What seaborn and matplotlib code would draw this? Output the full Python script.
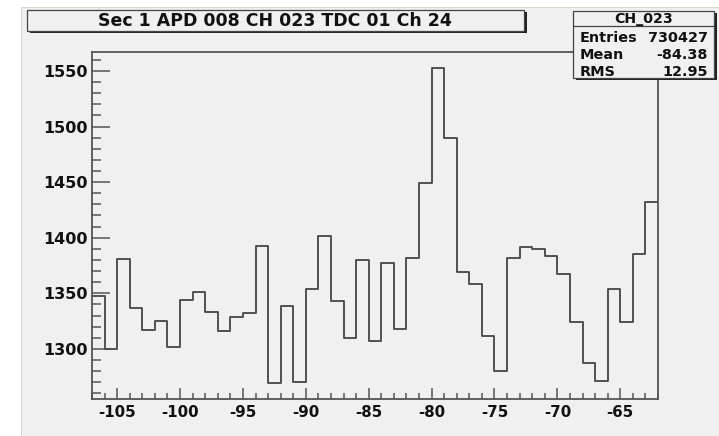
import numpy as np
import pandas as pd
import matplotlib
matplotlib.use('Agg')
import matplotlib.pyplot as plt
from matplotlib.patches import Rectangle
from matplotlib.lines import Line2D
import seaborn as sns

# Histogram data (bin low edges -107 ... -63, width 1)
bin_edges = list(range(-107, -61))
counts = [1348, 1300, 1381, 1337, 1317, 1325, 1302, 1344, 1351, 1333,
          1316, 1329, 1332, 1393, 1269, 1339, 1270, 1354, 1402, 1343,
          1310, 1380, 1307, 1377, 1318, 1382, 1449, 1553, 1490, 1369,
          1358, 1312, 1280, 1382, 1392, 1390, 1384, 1367, 1324, 1287,
          1271, 1354, 1324, 1385, 1432]
title = 'Sec 1 APD 008 CH 023 TDC 01 Ch 24'
stat_name = 'CH_023'
stat_labels = ['Entries', 'Mean', 'RMS']
stat_values = ['730427', '-84.38', '12.95']

W, H = 719, 436
bg = '#f0f0f0'
line_col = '#4a4a4a'

sns.set_theme(style='ticks')
plt.rcParams['font.family'] = ['DejaVu Sans']
plt.rcParams['axes.unicode_minus'] = False


def fx(px):
    return px / W


def fy(py):
    return 1 - py / H


fig = plt.figure(figsize=(W / 100, H / 100), dpi=100, facecolor='white')

# canvas background
fig.patches.append(Rectangle((fx(21), 0), 1 - fx(21), fy(7), transform=fig.transFigure,
                             facecolor=bg, edgecolor='#d8d0c0', lw=0.6, zorder=-5))

ax = fig.add_axes([fx(92), fy(399), fx(658) - fx(92), fy(52) - fy(399)])
ax.set_facecolor(bg)

df = pd.DataFrame({'x': np.array(bin_edges[:-1]) + 0.5, 'n': counts})
sns.histplot(data=df, x='x', weights='n', bins=bin_edges, element='step', fill=False,
             color=line_col, linewidth=1.35, ax=ax)

ax.set_xlim(-107, -62)
ax.set_ylim(1255, 1567)
ax.set_xlabel('')
ax.set_ylabel('')
ax.set_xticks(np.arange(-105, -61, 5))
ax.set_xticks(np.arange(-107, -61, 1), minor=True)
ax.set_yticks(np.arange(1300, 1551, 50))
ax.set_yticks(np.arange(1260, 1567, 10), minor=True)
ax.tick_params(axis='both', which='both', direction='in', color='#555555', width=1.1)
ax.tick_params(axis='y', which='major', length=13, pad=3, labelsize=11.5)
ax.tick_params(axis='y', which='minor', length=6.5)
ax.tick_params(axis='x', which='major', length=8, pad=4, labelsize=10.8)
ax.tick_params(axis='x', which='minor', length=4.3)
for lab in ax.get_xticklabels() + ax.get_yticklabels():
    lab.set_fontweight('bold')
    lab.set_color('#111111')
for s in ax.spines.values():
    s.set_color('#555555')
    s.set_linewidth(1.3)


def box(x0, y0, x1, y1):
    # ROOT style box with drop shadow
    fig.patches.append(Rectangle((fx(x0 + 2.5), fy(y1 + 2.5)), fx(x1 - x0), fy(y0) - fy(y1),
                                 transform=fig.transFigure, facecolor='#222222',
                                 edgecolor='none', zorder=5))
    fig.patches.append(Rectangle((fx(x0), fy(y1)), fx(x1 - x0), fy(y0) - fy(y1),
                                 transform=fig.transFigure, facecolor=bg,
                                 edgecolor='#444444', lw=0.9, zorder=6))


# title box
box(27, 10, 524, 31)
fig.text(fx(275), fy(20.5), title, ha='center', va='center', fontsize=12.5,
         fontweight='bold', color='#111111', zorder=7)

# stats box
box(573, 11, 714, 78)
fig.lines.append(Line2D([fx(573), fx(714)], [fy(26), fy(26)], transform=fig.transFigure,
                        color='#444444', lw=0.9, zorder=7))
fig.text(fx(643.5), fy(18.5), stat_name, ha='center', va='center', fontsize=10.2,
         fontweight='bold', color='#111111', zorder=7)
for i, (lab, val) in enumerate(zip(stat_labels, stat_values)):
    yy = fy(37.5 + i * 17.5)
    fig.text(fx(580), yy, lab, ha='left', va='center', fontsize=10.4,
             fontweight='bold', color='#111111', zorder=7)
    fig.text(fx(708), yy, val, ha='right', va='center', fontsize=10.4,
             fontweight='bold', color='#111111', zorder=7)

fig.savefig('out.png', dpi=100, facecolor='white')
